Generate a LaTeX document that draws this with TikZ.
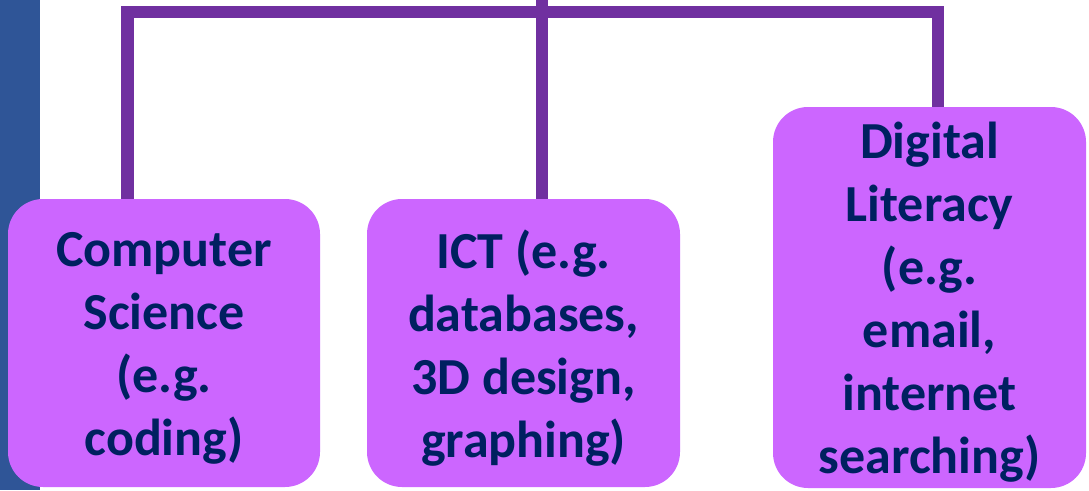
\documentclass[tikz,border=0pt]{standalone}
\usepackage{fontspec}
\setmainfont{Carlito}
\definecolor{barblue}{HTML}{2F5597}
\definecolor{linepurple}{HTML}{7030A0}
\definecolor{boxfill}{HTML}{CC66FF}
\definecolor{txtnavy}{HTML}{002060}
\begin{document}
\begin{tikzpicture}[x=1pt,y=-1pt,
  boxnode/.style={rectangle, rounded corners=35pt, fill=boxfill, draw=none,
    inner sep=0pt},
  boxtext/.style={inner sep=0pt, align=center, text=txtnavy,
    font=\fontsize{52}{63}\selectfont\bfseries},
  conn/.style={draw=linepurple, line width=12.5pt}]
\useasboundingbox (0,0) rectangle (1089,490);
\fill[white] (0,0) rectangle (1089,490);
\fill[barblue] (0,0) rectangle (40,490);
\node[boxnode, minimum width=312pt, minimum height=288pt] (b1) at (164,343) {};
\node[boxnode, minimum width=313pt, minimum height=288pt] (b2) at (523.5,343) {};
\node[boxnode, minimum width=313pt, minimum height=381pt] (b3) at (929.5,297.5) {};
\node[boxtext] (t1) at ([yshift=-5pt]b1.center) {Computer\\Science\\(e.g.\\coding)};
\node[boxtext] (t2) at ([yshift=-5pt]b2.center) {ICT (e.g.\\databases,\\3D design,\\graphing)};
\node[boxtext] (t3) at ([yshift=-5pt]b3.center) {Digital\\Literacy\\(e.g.\\email,\\internet\\searching)};
\coordinate (top) at (542,0);
\coordinate (jl) at (127.5,12);
\coordinate (jr) at (938,12);
\draw[conn] (b1.north -| jl) -- (jl) -- (jr) -- (b3.north -| jr);
\draw[conn] (top) -- (b2.north -| top);
\end{tikzpicture}
\end{document}
